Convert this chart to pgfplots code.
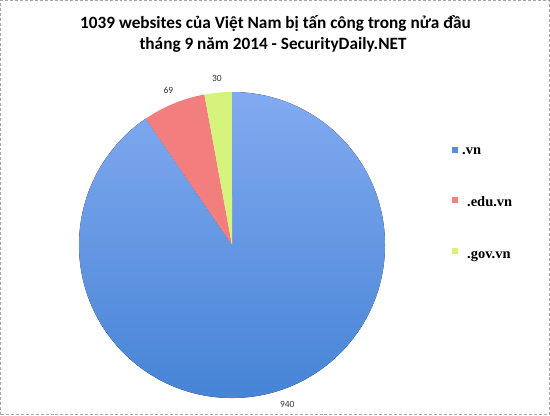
\documentclass[border=0pt]{standalone}
\usepackage{pgfplots}
\usepackage{pgfplotstable}
\pgfplotsset{compat=1.18}
\usetikzlibrary{calc}
\usepackage{fontspec}
\setmainfont{Carlito}
\newfontfamily\legfont{Liberation Serif}

\definecolor{vnblueT}{RGB}{130,170,240}
\definecolor{vnblueB}{RGB}{70,132,214}
\definecolor{edured}{RGB}{242,126,126}
\definecolor{govgreen}{RGB}{214,243,126}

\pgfplotstableread{
domain  count
.vn     940
.edu.vn 69
.gov.vn 30
}\piedata

\begin{document}
\begin{tikzpicture}
\pgfplotstablegetelem{0}{count}\of\piedata \let\va\pgfplotsretval
\pgfplotstablegetelem{1}{count}\of\piedata \let\vb\pgfplotsretval
\pgfplotstablegetelem{2}{count}\of\piedata \let\vc\pgfplotsretval
\pgfmathsetmacro\tot{\va+\vb+\vc}
% clockwise from 12 o'clock, like the spreadsheet
\pgfmathsetmacro\aA{90}
\pgfmathsetmacro\aB{90-360*(\va/\tot)}
\pgfmathsetmacro\aC{\aB-360*(\vb/\tot)}
\pgfmathsetmacro\aD{\aC-360*(\vc/\tot)}
\pgfmathsetmacro\mA{(\aA+\aB)/2}
\pgfmathsetmacro\mB{(\aB+\aC)/2}
\pgfmathsetmacro\mC{(\aC+\aD)/2}
\def\cx{232}\def\cy{170}\def\R{153}\def\L{167}
\begin{axis}[
  x=1bp, y=1bp, scale only axis,
  xmin=0, xmax=550, ymin=0, ymax=415,
  hide axis, clip=false,
]
\addplot[draw=none, forget plot] coordinates {(0,0) (550,415)};
% frame
\draw[gray!70, densely dashed, line width=0.6pt] (axis cs:0.5,0.5) rectangle (axis cs:549.5,414.5);
% sectors
\fill[top color=vnblueT, bottom color=vnblueB]
  (axis cs:\cx,\cy) -- ++(\aA:\R bp) arc[start angle=\aA, end angle=\aB, radius=\R bp] -- cycle;
\fill[edured]
  (axis cs:\cx,\cy) -- ++(\aB:\R bp) arc[start angle=\aB, end angle=\aC, radius=\R bp] -- cycle;
\fill[govgreen]
  (axis cs:\cx,\cy) -- ++(\aC:\R bp) arc[start angle=\aC, end angle=\aD, radius=\R bp] -- cycle;
% value labels
\node[font=\fontsize{9.5}{10}\selectfont, text=black!80] at ($(axis cs:\cx+6,\cy)+(\mA:\L bp)$) {\va};
\node[font=\fontsize{9.5}{10}\selectfont, text=black!80] at ($(axis cs:\cx,\cy)+(\mB:\L bp)$) {\vb};
\node[font=\fontsize{9.5}{10}\selectfont, text=black!80] at ($(axis cs:\cx,\cy)+(\mC:\L bp)$) {\vc};
% title
\node[font=\bfseries\fontsize{17.3}{21}\selectfont, anchor=base]
  at (axis cs:275.5,387) {1039 websites của Việt Nam bị tấn công trong nửa đầu};
\node[font=\bfseries\fontsize{17.3}{21}\selectfont, anchor=base]
  at (axis cs:273,366) {tháng 9 năm 2014 - SecurityDaily.NET};
% legend
\fill[vnblueB!75!vnblueT] (axis cs:452,262) rectangle (axis cs:458,268);
\fill[edured] (axis cs:452,212.5) rectangle (axis cs:458,218.5);
\fill[govgreen] (axis cs:452,161.5) rectangle (axis cs:458,167.5);
\node[font=\legfont\bfseries\fontsize{14.5}{15}\selectfont, anchor=base west, inner sep=0pt] at (axis cs:462,261) {.vn};
\node[font=\legfont\bfseries\fontsize{14.5}{15}\selectfont, anchor=base west, inner sep=0pt] at (axis cs:467,209) {.edu.vn};
\node[font=\legfont\bfseries\fontsize{14.5}{15}\selectfont, anchor=base west, inner sep=0pt] at (axis cs:467,157) {.gov.vn};
\end{axis}
\end{tikzpicture}
\end{document}
